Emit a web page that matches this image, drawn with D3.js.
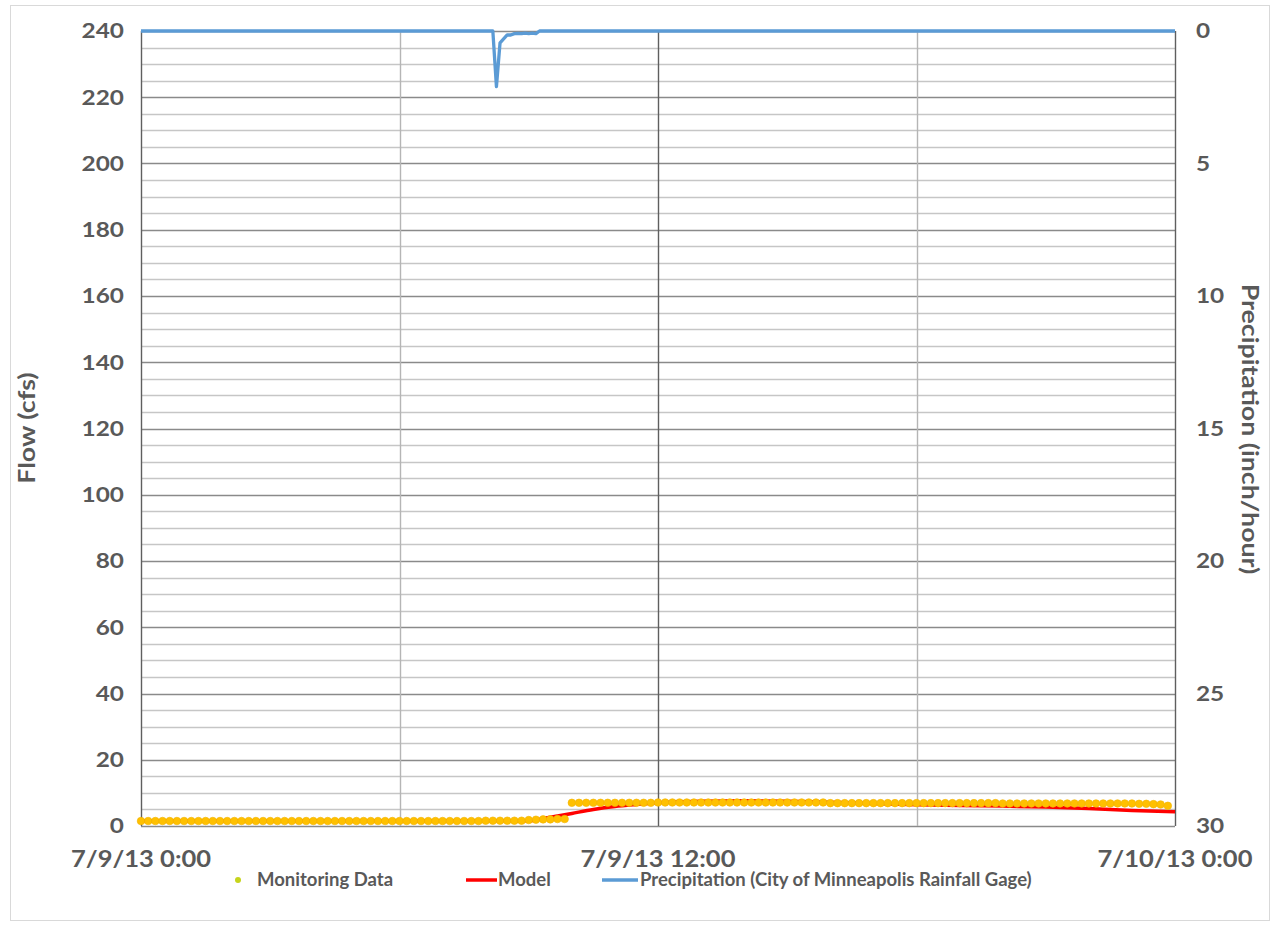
<!DOCTYPE html>
<html>
<head>
<meta charset="utf-8">
<script src="https://cdn.jsdelivr.net/npm/d3@7"></script>
<style>
  html, body { margin: 0; padding: 0; background: #fff; }
  svg text { font-family: "Lato", "Open Sans", sans-serif; font-weight: bold; fill: #595959; }
</style>
</head>
<body>
<svg id="chart" width="1279" height="934"></svg>
<script>
// Hourly time axis (hours after 7/9/13 0:00)
const timeTickHours = [0, 12, 24];
const timeTickLabels = ["7/9/13 0:00", "7/9/13 12:00", "7/10/13 0:00"];
const flowTicks = [0, 20, 40, 60, 80, 100, 120, 140, 160, 180, 200, 220, 240];
const precipTicks = [0, 5, 10, 15, 20, 25, 30];

// Monitoring data: 10-minute readings from 0:00 to 23:50 (cfs)
const monitoringStartHour = 0;
const monitoringStepMinutes = 10;
const monitoringFlow = [
  1.5, 1.5, 1.5, 1.5, 1.5, 1.5, 1.5, 1.5, 1.5, 1.5, 1.5, 1.5,
  1.5, 1.5, 1.5, 1.5, 1.5, 1.5, 1.5, 1.5, 1.5, 1.5, 1.5, 1.5,
  1.5, 1.5, 1.5, 1.5, 1.5, 1.5, 1.5, 1.5, 1.5, 1.5, 1.5, 1.5,
  1.5, 1.5, 1.5, 1.5, 1.5, 1.5, 1.5, 1.5, 1.5, 1.5, 1.5, 1.5,
  1.6, 1.6, 1.6, 1.6, 1.6, 1.6, 1.8, 1.9, 2.0, 2.0, 2.1, 2.1,
  7.0, 7.0, 7.0, 7.0, 7.0, 7.0, 7.0, 7.0, 7.0, 7.0, 7.0, 7.0,
  7.1, 7.1, 7.1, 7.1, 7.1, 7.1, 7.1, 7.1, 7.1, 7.1, 7.1, 7.1,
  7.1, 7.1, 7.1, 7.1, 7.1, 7.1, 7.1, 7.1, 7.1, 7.1, 7.1, 7.1,
  6.9, 6.9, 6.9, 6.9, 6.9, 6.9, 6.9, 6.9, 6.9, 6.9, 6.9, 6.9,
  6.9, 6.9, 6.9, 6.9, 6.9, 6.9, 6.9, 6.9, 6.9, 6.9, 6.9, 6.9,
  6.8, 6.8, 6.8, 6.8, 6.8, 6.8, 6.8, 6.8, 6.8, 6.8, 6.8, 6.8,
  6.8, 6.8, 6.8, 6.8, 6.8, 6.8, 6.8, 6.7, 6.7, 6.6, 6.5, 6.1
];

// Model results (cfs)
const modelHours = [0, 6, 9, 9.33, 9.67, 10, 10.5, 11, 11.5, 12, 12.5, 13, 14, 15, 16, 17, 18, 19, 20, 21, 22, 23, 24];
const modelFlow  = [1.5, 1.5, 1.6, 2.2, 3.0, 3.8, 5.0, 5.9, 6.5, 7.0, 7.3, 7.5, 7.6, 7.5, 7.2, 6.8, 6.4, 6.2, 6.0, 5.7, 5.3, 4.7, 4.3];

// Precipitation, City of Minneapolis rainfall gage (inch/hour)
const precipHours = [0, 8.0833, 8.1667, 8.25, 8.3333, 8.4167, 8.5, 8.5833, 8.6667, 8.75, 8.8333, 8.9167, 9.0, 9.0833, 9.1667, 9.25, 24];
const precipRate  = [0, 0, 0, 2.1, 0.45, 0.3, 0.15, 0.15, 0.1, 0.09, 0.1, 0.08, 0.1, 0.08, 0.1, 0, 0];

const svg = d3.select("#chart");
const plot = { left: 141, right: 1175, top: 31, bottom: 826 };

const x = d3.scaleLinear().domain([0, 24]).range([plot.left, plot.right]);
const yFlow = d3.scaleLinear().domain([0, 240]).range([plot.bottom, plot.top]);
const yPrecip = d3.scaleLinear().domain([0, 30]).range([plot.top, plot.bottom]);

// Wide bold lettering: text is stretched horizontally along its baseline
const stretch = 1.16;

// Outer frame
svg.append("rect")
  .attr("x", 10.5).attr("y", 5.5).attr("width", 1259).attr("height", 915)
  .attr("fill", "#fff").attr("stroke", "#d9d9d9").attr("stroke-width", 1);

// Minor horizontal gridlines every 5 cfs
const minorFlow = d3.range(0, 241, 5).filter(v => v % 20 !== 0);
svg.append("g").selectAll("line").data(minorFlow).join("line")
  .attr("x1", plot.left).attr("x2", plot.right)
  .attr("y1", d => Math.round(yFlow(d)) + 0.5).attr("y2", d => Math.round(yFlow(d)) + 0.5)
  .attr("stroke", "#c6c6c6").attr("stroke-width", 1.3);

// Major horizontal gridlines
svg.append("g").selectAll("line").data(flowTicks).join("line")
  .attr("x1", plot.left).attr("x2", plot.right)
  .attr("y1", d => Math.round(yFlow(d)) + 0.5).attr("y2", d => Math.round(yFlow(d)) + 0.5)
  .attr("stroke", "#8a8a8a").attr("stroke-width", 1.4);

// Vertical gridlines: 6-hour minor, 12-hour major
svg.append("g").selectAll("line").data([6, 18]).join("line")
  .attr("x1", d => Math.round(x(d)) + 0.5).attr("x2", d => Math.round(x(d)) + 0.5)
  .attr("y1", plot.top).attr("y2", plot.bottom)
  .attr("stroke", "#b5b5b5").attr("stroke-width", 1.4);
svg.append("g").selectAll("line").data(timeTickHours).join("line")
  .attr("x1", d => Math.round(x(d)) + 0.5).attr("x2", d => Math.round(x(d)) + 0.5)
  .attr("y1", plot.top).attr("y2", plot.bottom)
  .attr("stroke", "#5f5f5f").attr("stroke-width", 1.4);

// Model line
const modelLine = d3.line().x((d, i) => x(modelHours[i])).y(d => yFlow(d)).curve(d3.curveMonotoneX);
svg.append("path").datum(modelFlow)
  .attr("d", modelLine).attr("fill", "none")
  .attr("stroke", "#ff0000").attr("stroke-width", 3.5);

// Monitoring points
svg.append("g").selectAll("circle").data(monitoringFlow).join("circle")
  .attr("cx", (d, i) => x(monitoringStartHour + i * monitoringStepMinutes / 60))
  .attr("cy", d => yFlow(d))
  .attr("r", 3.8)
  .attr("fill", "#ffc000")
  .attr("stroke", "#f2b400").attr("stroke-width", 0.6);

// Precipitation line on the inverted secondary axis
const precipLine = d3.line().x((d, i) => x(precipHours[i])).y(d => yPrecip(d));
svg.append("path").datum(precipRate)
  .attr("d", precipLine).attr("fill", "none")
  .attr("stroke", "#5b9bd5").attr("stroke-width", 3.3).attr("stroke-linejoin", "round");

// Left axis labels
svg.append("g").selectAll("text").data(flowTicks).join("text")
  .attr("transform", d => `translate(124,${yFlow(d)}) scale(${stretch},1)`)
  .attr("dy", "0.35em").attr("text-anchor", "end")
  .attr("font-size", 21)
  .text(d => d);

// Right axis labels
svg.append("g").selectAll("text").data(precipTicks).join("text")
  .attr("transform", d => `translate(1196,${yPrecip(d)}) scale(${stretch},1)`)
  .attr("dy", "0.35em").attr("text-anchor", "start")
  .attr("font-size", 21)
  .text(d => d);

// Bottom axis labels
svg.append("g").selectAll("text").data(timeTickHours).join("text")
  .attr("transform", d => `translate(${x(d)},867) scale(${stretch},1)`)
  .attr("text-anchor", "middle")
  .attr("font-size", 22)
  .text((d, i) => timeTickLabels[i]);

// Axis titles
svg.append("text")
  .attr("transform", `translate(35,428) rotate(-90) scale(${stretch},1)`)
  .attr("text-anchor", "middle").attr("font-size", 23)
  .text("Flow (cfs)");
svg.append("text")
  .attr("transform", `translate(1242,429) rotate(90) scale(${stretch},1)`)
  .attr("text-anchor", "middle").attr("font-size", 23)
  .text("Precipitation (inch/hour)");

// Legend
const legend = svg.append("g").attr("font-size", 18.5);
legend.append("circle").attr("cx", 238).attr("cy", 880).attr("r", 3).attr("fill", "#c6d41c");
legend.append("text").attr("x", 257).attr("y", 886).text("Monitoring Data");
legend.append("line").attr("x1", 466).attr("x2", 497).attr("y1", 880).attr("y2", 880)
  .attr("stroke", "#ff0000").attr("stroke-width", 3.5);
legend.append("text").attr("x", 498).attr("y", 886).text("Model");
legend.append("line").attr("x1", 602).attr("x2", 638).attr("y1", 880).attr("y2", 880)
  .attr("stroke", "#5b9bd5").attr("stroke-width", 3.5);
legend.append("text").attr("x", 640).attr("y", 886).text("Precipitation (City of Minneapolis Rainfall Gage)");
</script>
</body>
</html>
